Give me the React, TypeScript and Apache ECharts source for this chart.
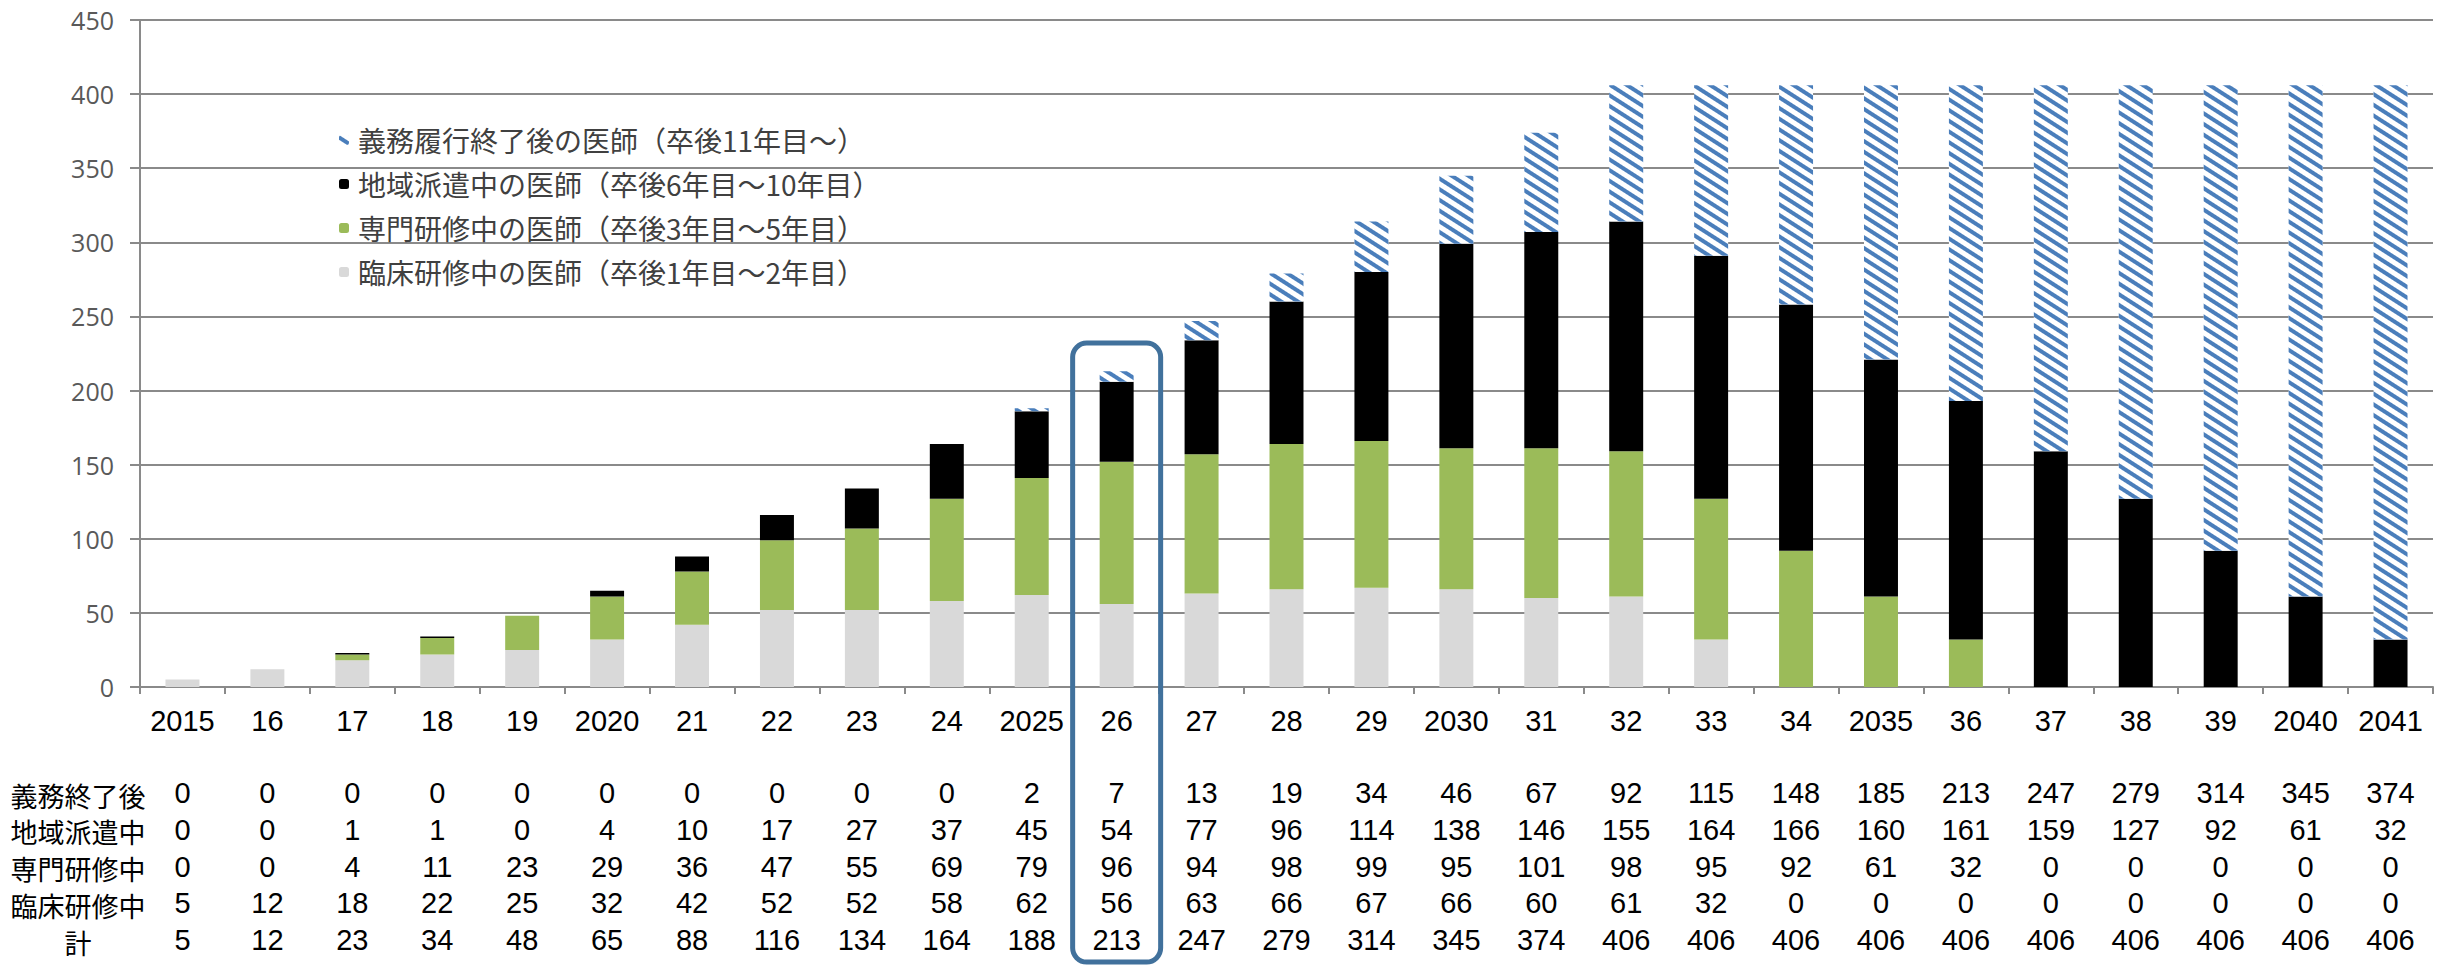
import React, { useEffect, useRef } from "react";
import * as echarts from "echarts";

const years = ["2015","16","17","18","19","2020","21","22","23","24","2025","26","27","28","29","2030","31","32","33","34","2035","36","37","38","39","2040","2041"];
const gimuShuryo = [0,0,0,0,0,0,0,0,0,0,2,7,13,19,34,46,67,92,115,148,185,213,247,279,314,345,374];
const chiikiHaken = [0,0,1,1,0,4,10,17,27,37,45,54,77,96,114,138,146,155,164,166,160,161,159,127,92,61,32];
const senmonKenshu = [0,0,4,11,23,29,36,47,55,69,79,96,94,98,99,95,101,98,95,92,61,32,0,0,0,0,0];
const rinshoKenshu = [5,12,18,22,25,32,42,52,52,58,62,56,63,66,67,66,60,61,32,0,0,0,0,0,0,0,0];
const totals = years.map((_, i) => gimuShuryo[i] + chiikiHaken[i] + senmonKenshu[i] + rinshoKenshu[i]);

const seriesNames = [
  "義務履行終了後の医師（卒後11年目～）",
  "地域派遣中の医師（卒後6年目～10年目）",
  "専門研修中の医師（卒後3年目～5年目）",
  "臨床研修中の医師（卒後1年目～2年目）",
];
const rowLabels = ["義務終了後", "地域派遣中", "専門研修中", "臨床研修中", "計"];
const tableRows = [gimuShuryo, chiikiHaken, senmonKenshu, rinshoKenshu, totals];
const highlightYear = "26";

const W = 2443;
const H = 965;
const GRID_BOTTOM_Y = 687;
const ROW_TOP = 793;
const ROW_STEP = 36.8;
const JP = "'Noto Sans CJK JP', 'Noto Sans', sans-serif";
const NUM = "'Liberation Sans', Arial, sans-serif";

export default function App() {
  const ref = useRef<HTMLDivElement>(null);
  useEffect(() => {
    if (!ref.current) return;
    const chart = echarts.init(ref.current, undefined, { renderer: "svg" });
    const tableAxes = tableRows.map((row, r) => ({
      type: "category",
      data: years,
      position: "bottom",
      offset: ROW_TOP + r * ROW_STEP - GRID_BOTTOM_Y - 15,
      axisLine: { show: false },
      axisTick: { show: false },
      splitLine: { show: false },
      axisLabel: {
        interval: 0,
        margin: 0,
        fontSize: 29,
        lineHeight: 30,
        fontFamily: NUM,
        color: "#000",
        formatter: (_v: string, i: number) => String(row[i]),
      },
    }));
    const option: any = {
      animation: false,
      backgroundColor: "#ffffff",
      grid: { left: 140, right: 10, top: 20, bottom: H - GRID_BOTTOM_Y, containLabel: false },
      legend: {
        orient: "vertical",
        left: 334,
        top: 121,
        itemWidth: 10,
        itemHeight: 10,
        itemGap: 16,
        data: [seriesNames[0], seriesNames[1], seriesNames[2], seriesNames[3]],
        textStyle: { fontSize: 28, fontFamily: JP, color: "#404040", padding: [0, 0, 0, 4] },
      },
      xAxis: [
        {
          type: "category",
          data: years,
          axisLine: { show: true, lineStyle: { color: "#8a8a8a", width: 2 } },
          axisTick: { show: true, interval: 0, length: 7, lineStyle: { color: "#8a8a8a", width: 2 } },
          axisLabel: { interval: 0, margin: 19, fontSize: 29, fontFamily: NUM, color: "#000" },
        },
        ...tableAxes,
      ],
      yAxis: {
        type: "value",
        min: 0,
        max: 450,
        interval: 50,
        axisLine: { show: true, lineStyle: { color: "#8a8a8a", width: 2 } },
        axisTick: { show: true, length: 10, lineStyle: { color: "#8a8a8a", width: 2 } },
        splitLine: { show: true, lineStyle: { color: "#8a8a8a", width: 2 } },
        axisLabel: { margin: 26, fontSize: 25, fontFamily: "'Open Sans', 'Liberation Sans', sans-serif", color: "#595959" },
      },
      series: [
        {
          name: seriesNames[3],
          type: "bar",
          stack: "t",
          barCategoryGap: "60%",
          data: rinshoKenshu,
          itemStyle: { color: "#d9d9d9" },
        },
        {
          name: seriesNames[2],
          type: "bar",
          stack: "t",
          barCategoryGap: "60%",
          data: senmonKenshu,
          itemStyle: { color: "#9bbb59" },
        },
        {
          name: seriesNames[1],
          type: "bar",
          stack: "t",
          barCategoryGap: "60%",
          data: chiikiHaken,
          itemStyle: { color: "#000000" },
        },
        {
          name: seriesNames[0],
          type: "bar",
          stack: "t",
          barCategoryGap: "60%",
          data: gimuShuryo,
          itemStyle: {
            color: "#ffffff",
            decal: {
              symbol: "rect",
              symbolSize: 1,
              color: "#4a7ebb",
              dashArrayX: [1, 0],
              dashArrayY: [3.5, 4.5],
              rotation: Math.PI / 5.5,
            },
          },
        },
      ],
    };
    chart.setOption(option);

    const cx = chart.convertToPixel({ xAxisIndex: 0 }, highlightYear) as number;
    const topY = chart.convertToPixel({ yAxisIndex: 0 }, 232) as number;
    chart.setOption({
      graphic: [
        {
          type: "text",
          x: 78,
          y: ROW_TOP - ROW_STEP / 2 + 2,
          style: {
            text: rowLabels.join("\n"),
            fontSize: 27,
            lineHeight: ROW_STEP,
            fontFamily: JP,
            fill: "#000",
            align: "center",
            verticalAlign: "top",
          },
        },
        {
          type: "rect",
          shape: { x: cx - 44, y: topY, width: 88, height: 962 - topY, r: 14 },
          style: { fill: "none", stroke: "#41719c", lineWidth: 5 },
          z: 100,
        },
      ],
    });

    return () => chart.dispose();
  }, []);
  return (
    <div
      ref={ref}
      style={{ position: "absolute", left: 0, top: 0, width: W, height: H, background: "#fff" }}
    />
  );
}
